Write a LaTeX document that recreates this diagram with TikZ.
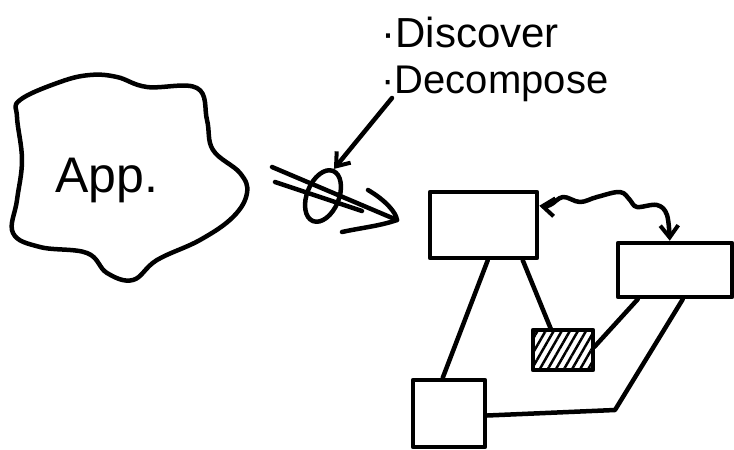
\documentclass[tikz,border=0pt]{standalone}
\usepackage{fontspec}
\setmainfont{Liberation Sans}
\usetikzlibrary{arrows.meta,shapes.geometric,patterns.meta}

\tikzset{
  sketch/.style={line width=4.5pt,line cap=round,line join=round},
  box/.style={sketch,draw,rectangle,inner sep=0pt},
}

\begin{document}
\begin{tikzpicture}[x=1pt,y=-1pt,>={Straight Barb[length=12pt,width=18pt,line width=4pt]}]
\useasboundingbox (0,0) rectangle (734,450);
\draw[sketch] plot[smooth cycle,tension=0.65] coordinates {
  (20,100) (60,82) (90,75) (117,77) (147,87) (197,88) (207,120) (213,150)
  (240,173) (247,193) (233,217) (200,240) (157,260) (133,280) (107,273)
  (87,253) (40,247) (13,233) (17,200) (22,160) (17,117)};
\node (app) at (107,180) {\fontsize{50}{50}\selectfont App.};

\node[anchor=west] (disc) at (378,32) {\fontsize{42}{42}\selectfont ·Discover};
\node[anchor=west] (decomp) at (378,84) {\fontsize{40}{40}\selectfont ·Decompose};

\node[sketch,draw,ellipse,minimum width=32pt,minimum height=54pt,inner sep=0pt,rotate=-22] (lens) at (323,196) {};
\draw[sketch,->] ([xshift=14pt,yshift=-14pt]decomp.west) -- (lens.north);

\coordinate (tail1) at (272,167);
\coordinate (tail2) at (275,182);
\coordinate (head) at (397,220);
\draw[sketch] (tail1) -- (head);
\draw[sketch] (tail2) -- (362,211);
\draw[sketch] (368,190) .. controls (385,200) and (396,212) .. (head) .. controls (380,226) and (360,228) .. (342,232);

\node[box,minimum width=107pt,minimum height=66pt] (A) at (483.5,225) {};
\node[box,minimum width=114pt,minimum height=54pt] (B) at (675,270) {};
\node[box,minimum width=60pt,minimum height=40pt,pattern={Lines[angle=60,distance=7pt,line width=2.5pt]}] (C) at (563,350) {};
\node[box,minimum width=72pt,minimum height=67pt] (D) at (449,413.5) {};

\draw[sketch] ([xshift=60pt]A.south west) -- ([xshift=32pt]D.north west);
\draw[sketch] ([xshift=95pt]A.south west) -- ([xshift=19pt]C.north west);
\draw[sketch] ([xshift=22pt]B.south west) -- ([yshift=3pt]C.east);
\coordinate (bend) at (615,410);
\draw[sketch] ([xshift=67pt]B.south west) -- (bend) -- ([yshift=-2pt]D.east);

\coordinate (wl) at ([yshift=-16pt]A.north east);
\coordinate (wr) at ([xshift=54pt]B.north west);
\draw[sketch,<->] plot[smooth,tension=0.6] coordinates {
  (wl) (550,205) (563,197) (580,202) (597,197) (620,192) (630,200)
  (637,207) (657,205) (667,215) (wr)};
\end{tikzpicture}
\end{document}
